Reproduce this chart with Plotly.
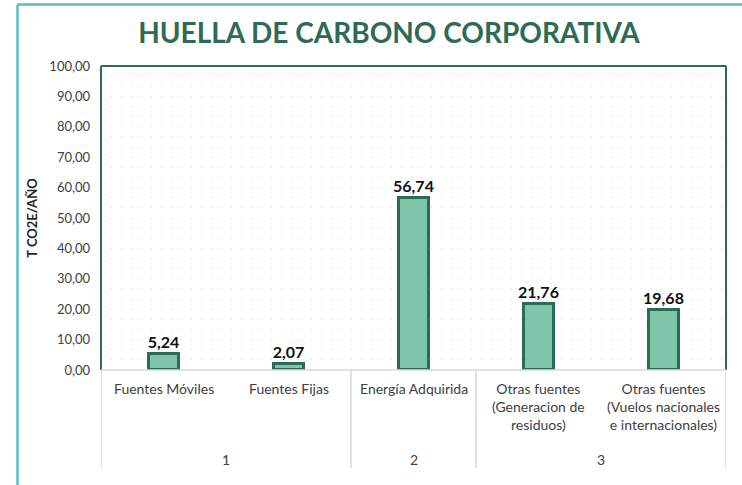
import plotly.graph_objects as go

categories = ["Fuentes Móviles", "Fuentes Fijas", "Energía Adquirida",
              "Otras fuentes<br>(Generacion de<br>residuos)",
              "Otras fuentes<br>(Vuelos nacionales<br>e internacionales)"]
values = [5.24, 2.07, 56.74, 21.76, 19.68]
groups = ["1", "2", "3"]
group_centers = [0.5, 2, 3.5]
group_edges = [-0.5, 1.5, 2.5, 4.5]
y_ticks = [0, 10, 20, 30, 40, 50, 60, 70, 80, 90, 100]

FONT = "Lato"
DARK = "#2E6B56"
W, H = 742, 485
L, R, T, B = 101, 16, 66, 115
pw, ph = W - L - R, H - T - B

xs = list(range(len(categories)))
fig = go.Figure(go.Bar(
    x=xs, y=values, width=0.24,
    marker=dict(color="#7fc5aa", line=dict(color=DARK, width=3)),
    texttemplate="<b>%{y:.2f}</b>", textposition="outside", constraintext="none",
    textfont=dict(family=FONT, size=16, color="#111111"),
    cliponaxis=False,
))

fig.update_layout(
    width=W, height=H, margin=dict(l=L, r=R, t=T, b=B),
    paper_bgcolor="white", plot_bgcolor="white",
    separators=",.",
    showlegend=False,
    title=dict(text="<b>HUELLA DE CARBONO CORPORATIVA</b>", x=(389) / W, xanchor="center",
               y=1 - 33 / H, yanchor="middle",
               font=dict(family=FONT, size=28, color=DARK)),
    font=dict(family=FONT, color="#404040"),
    bargap=0,
)
fig.update_xaxes(range=[-0.5, 4.5], showticklabels=False, showgrid=False, zeroline=False,
                 showline=False, fixedrange=True)
fig.update_yaxes(range=[0, 100], tickvals=y_ticks, tickformat=".2f",
                 tickfont=dict(family=FONT, size=13, color="#404040"),
                 showgrid=True, gridcolor="#c6e5da", griddash="1px,9px", gridwidth=1.2,
                 minor=dict(dtick=10 / 3, showgrid=True, gridcolor="#c6e5da",
                            griddash="1px,9px", gridwidth=1.2),
                 zeroline=False, showline=False, ticks="", ticklabelstandoff=10,
                 automargin=False,
                 title=dict(text="<b>T CO2E/AÑO</b>", font=dict(family=FONT, size=13, color="#262626"),
                            standoff=8))

shapes = []
# plot border
shapes.append(dict(type="line", xref="paper", yref="paper", x0=0, x1=0, y0=0, y1=1,
                   line=dict(color=DARK, width=2)))
shapes.append(dict(type="line", xref="paper", yref="paper", x0=1, x1=1, y0=0, y1=1,
                   line=dict(color=DARK, width=2)))
shapes.append(dict(type="line", xref="paper", yref="paper", x0=0, x1=1, y0=1, y1=1,
                   line=dict(color=DARK, width=2)))
shapes.append(dict(type="line", xref="paper", yref="paper", x0=0, x1=1, y0=0, y1=0,
                   line=dict(color="#d9d9d9", width=1.5)))
# group dividers
for e in group_edges:
    shapes.append(dict(type="line", xref="x", yref="paper", x0=e, x1=e, y0=0,
                       y1=-(468 - 370) / ph, line=dict(color="#d9d9d9", width=1.5)))
# outer chart frame
fx = (17.5 - L) / pw
fy = 1 + (T - 4.5) / ph
shapes.append(dict(type="line", xref="paper", yref="paper", x0=fx, x1=fx, y0=fy, y1=-2,
                   line=dict(color="#5bbcc6", width=2.5)))
shapes.append(dict(type="line", xref="paper", yref="paper", x0=fx, x1=2, y0=fy, y1=fy,
                   line=dict(color="#5bbcc6", width=2.5)))
fig.update_layout(shapes=shapes)

ann = []
for i, c in enumerate(categories):
    ann.append(dict(x=i, y=0, xref="x", yref="paper", text=c, showarrow=False,
                    yanchor="top", yshift=-8, align="center",
                    font=dict(family=FONT, size=14, color="#404040")))
for g, cx in zip(groups, group_centers):
    ann.append(dict(x=cx, y=0, xref="x", yref="paper", text=g, showarrow=False,
                    yanchor="middle", yshift=-(459 - 370),
                    font=dict(family=FONT, size=14, color="#404040")))
fig.update_layout(annotations=ann)

fig.write_html("out.html", config={"displayModeBar": False},
               post_script="document.body.style.margin='0';document.body.style.overflow='hidden';")
